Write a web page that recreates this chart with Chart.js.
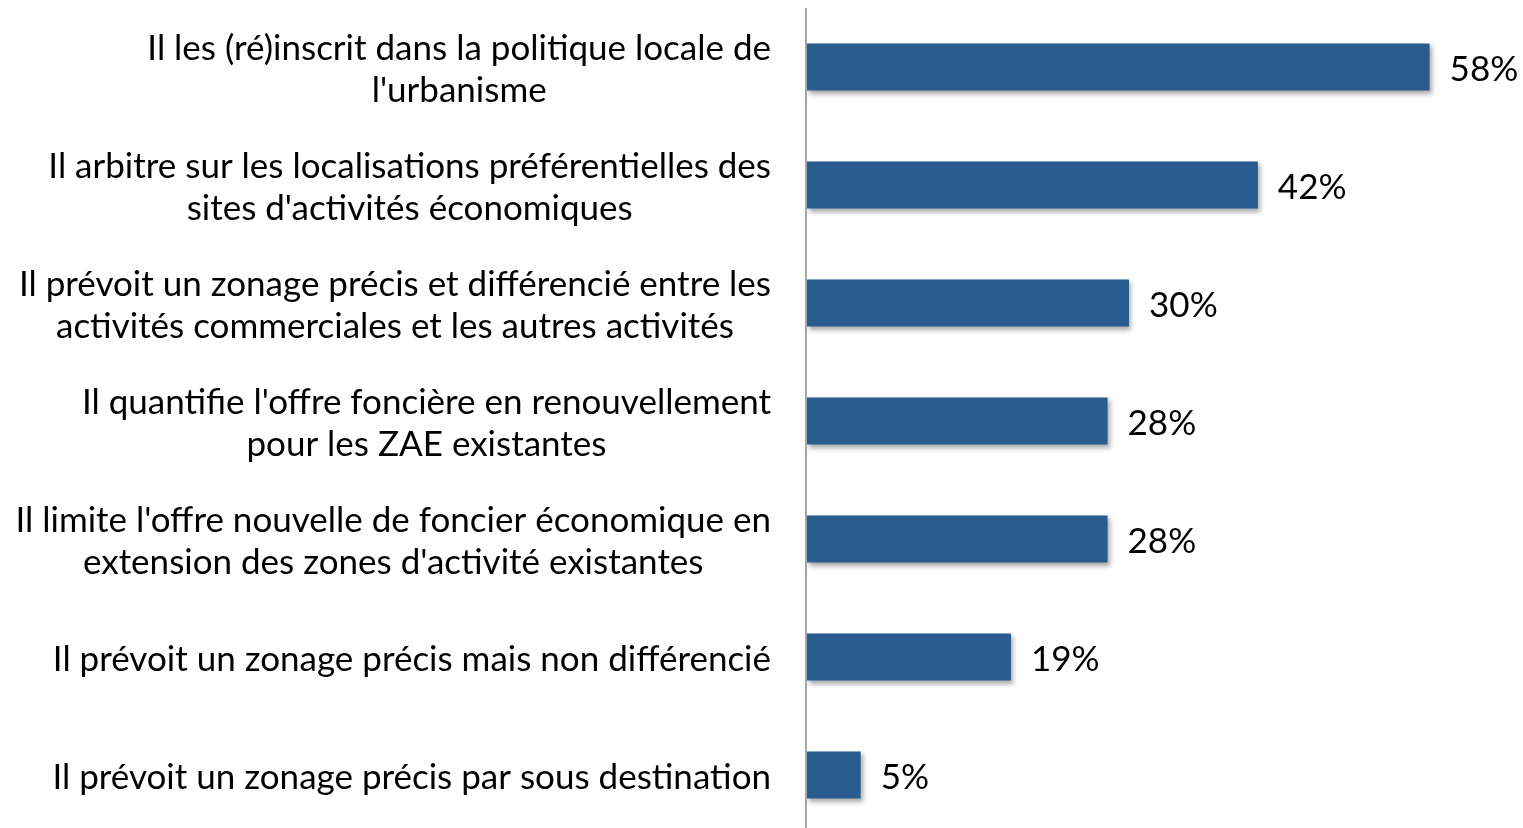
<!DOCTYPE html>
<html>
<head>
<meta charset="utf-8">
<script src="https://cdn.jsdelivr.net/npm/chart.js@4"></script>
<style>
  html, body { margin: 0; padding: 0; background: #fff; }
  #wrap { width: 1523px; height: 828px; }
</style>
</head>
<body>
<div id="wrap"><canvas id="barres"></canvas></div>
<script>
// categories (multi-line labels) and values in %
var categories = [
  ["Il les (ré)inscrit dans la politique locale de", "l'urbanisme"],
  ["Il arbitre sur les localisations préférentielles des", "sites d'activités économiques"],
  ["Il prévoit un zonage précis et différencié entre les", "activités commerciales et les autres activités"],
  ["Il quantifie l'offre foncière en renouvellement", "pour les ZAE existantes"],
  ["Il limite l'offre nouvelle de foncier économique en", "extension des zones d'activité existantes"],
  ["Il prévoit un zonage précis mais non différencié"],
  ["Il prévoit un zonage précis par sous destination"]
];
var valeurs = [58, 42, 30, 28, 28, 19, 5];

var police = '35px Lato, "Open Sans", sans-serif';

// etiquettes a gauche : bloc aligne a droite, lignes centrees entre elles
var etiquettes = {
  id: 'etiquettes',
  afterDraw: function (chart) {
    var ctx = chart.ctx;
    var y = chart.scales.y;
    var x = chart.scales.x;
    var meta = chart.getDatasetMeta(0);
    ctx.save();
    ctx.font = police;
    ctx.fillStyle = '#000';
    ctx.textBaseline = 'middle';
    ctx.textAlign = 'center';
    categories.forEach(function (lignes, i) {
      var yc = y.getPixelForValue(i) + 3;
      var largeur = 0;
      lignes.forEach(function (l) { largeur = Math.max(largeur, ctx.measureText(l).width); });
      var xc = 771 - largeur / 2;
      var debut = yc - (lignes.length - 1) * 21;
      lignes.forEach(function (l, k) { ctx.fillText(l, xc, debut + k * 42); });
    });
    // valeurs au bout des barres
    ctx.textAlign = 'left';
    meta.data.forEach(function (bar, i) {
      ctx.fillText(valeurs[i] + '%', bar.x + 20, bar.y + 3);
    });
    // axe vertical
    ctx.strokeStyle = '#a6a6a6';
    ctx.lineWidth = 2;
    ctx.beginPath();
    ctx.moveTo(x.getPixelForValue(0) - 1, 8);
    ctx.lineTo(x.getPixelForValue(0) - 1, 828);
    ctx.stroke();
    ctx.restore();
  }
};

// ombre legere sous les barres
var ombre = {
  id: 'ombre',
  beforeDatasetsDraw: function (chart) {
    var ctx = chart.ctx;
    ctx.save();
    ctx.shadowColor = 'rgba(0,0,0,0.35)';
    ctx.shadowBlur = 5;
    ctx.shadowOffsetX = 2;
    ctx.shadowOffsetY = 3;
  },
  afterDatasetsDraw: function (chart) {
    chart.ctx.restore();
  }
};

var ctx = document.getElementById('barres').getContext('2d');
var graphique = new Chart(ctx, {
  type: 'bar',
  data: {
    labels: categories,
    datasets: [{
      data: valeurs,
      backgroundColor: '#285c8e',
      borderWidth: 0,
      barPercentage: 0.8,
      categoryPercentage: 0.5,
      clip: false
    }]
  },
  options: {
    indexAxis: 'y',
    responsive: true,
    maintainAspectRatio: false,
    animation: false,
    layout: { padding: { left: 807, right: 0, top: 67, bottom: 53 } },
    plugins: { legend: { display: false }, tooltip: { enabled: false } },
    scales: {
      x: { display: false, min: 0, max: 66.7 },
      y: { display: false, offset: false }
    }
  },
  plugins: [ombre, etiquettes]
});
</script>
</body>
</html>
